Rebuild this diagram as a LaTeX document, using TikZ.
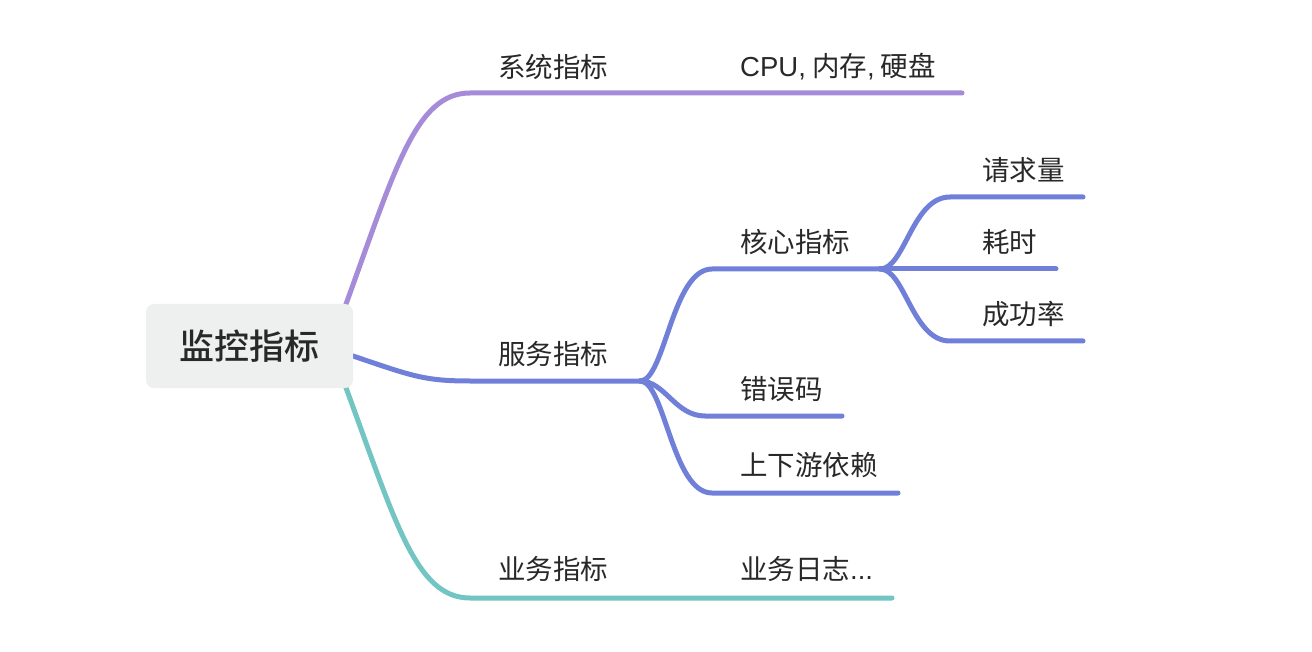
\documentclass[tikz,border=0pt]{standalone}
\usepackage{fontspec}
\usepackage{tikz}
\usetikzlibrary{backgrounds}
\newfontfamily\cjk{Noto Sans CJK SC}
\newfontfamily\cjkmed{Noto Sans CJK SC Medium}
\newfontfamily\latin{Liberation Sans}
\definecolor{syscolor}{RGB}{166,139,216}
\definecolor{svccolor}{RGB}{112,128,216}
\definecolor{bizcolor}{RGB}{114,197,194}
\definecolor{rootfill}{RGB}{238,239,239}
\definecolor{textgray}{RGB}{40,40,40}

\begin{document}
\begin{tikzpicture}[
    x=1pt, y=-1pt,
    rootbox/.style={rectangle, fill=rootfill, rounded corners=8pt, minimum width=207pt, minimum height=84pt, inner sep=0pt, text=textgray, font=\cjkmed\fontsize{35}{40}\selectfont},
    topic/.style={anchor=west, inner sep=0pt, text=textgray, font=\cjk\fontsize{27.5}{32}\selectfont},
    branch/.style={line width=5pt, line cap=round}
]
\useasboundingbox (0,0) rectangle (1312,652);

% Root
\node[rootbox] (root) at (249.5,346) {监控指标};

% Main topics
\node[topic] (sys) at (498,67) {系统指标};
\node[topic] (svc) at (498,354) {服务指标};
\node[topic] (biz) at (498,569) {业务指标};

% Sub topics
\node[topic] (cpu) at (740,67) {{\latin CPU,} 内存{\latin ,} 硬盘};
\node[topic] (core) at (740,242) {核心指标};
\node[topic] (err) at (740,389) {错误码};
\node[topic] (dep) at (740,465) {上下游依赖};
\node[topic] (log) at (740,569) {业务日志{\latin ...}};
\node[topic] (req) at (982,170) {请求量};
\node[topic] (lat) at (982,242) {耗时};
\node[topic] (succ) at (982,314) {成功率};

% Underline ends
\coordinate (sys-s) at (470,93);
\coordinate (sys-e) at (962,93);
\coordinate (svc-s) at (470,381);
\coordinate (svc-e) at (640,381);
\coordinate (biz-s) at (470,598);
\coordinate (biz-e) at (892,598);
\coordinate (core-s) at (712,269);
\coordinate (core-e) at (880,269);
\coordinate (err-s) at (705,416);
\coordinate (err-e) at (842,416);
\coordinate (dep-s) at (712,493);
\coordinate (dep-e) at (898,493);
\coordinate (req-s) at (950,197);
\coordinate (req-e) at (1083,197);
\coordinate (lat-e) at (1056,269);
\coordinate (succ-s) at (950,341);
\coordinate (succ-e) at (1083,341);

\begin{scope}[on background layer]
% Root to main topics
\draw[branch, syscolor] ([xshift=-10pt,yshift=-8pt]root.north east) .. controls (395,170) and (415,93) .. (sys-s) -- (sys-e);
\draw[branch, svccolor] ([xshift=-18pt,yshift=-4pt]root.east) .. controls (410,375) and (420,381) .. (svc-s) -- (svc-e);
\draw[branch, bizcolor] ([xshift=-10pt,yshift=8pt]root.south east) .. controls (395,520) and (415,598) .. (biz-s) -- (biz-e);

% Service sub topics
\draw[branch, svccolor] (svc-e) .. controls (665,381) and (672,269) .. (core-s) -- (core-e);
\draw[branch, svccolor] (svc-e) .. controls (665,381) and (675,416) .. (err-s) -- (err-e);
\draw[branch, svccolor] (svc-e) .. controls (665,381) and (672,493) .. (dep-s) -- (dep-e);

% Core sub topics
\draw[branch, svccolor] (core-e) .. controls (905,269) and (912,197) .. (req-s) -- (req-e);
\draw[branch, svccolor] (core-e) -- (lat-e);
\draw[branch, svccolor] (core-e) .. controls (905,269) and (912,341) .. (succ-s) -- (succ-e);
\end{scope}

\end{tikzpicture}
\end{document}
